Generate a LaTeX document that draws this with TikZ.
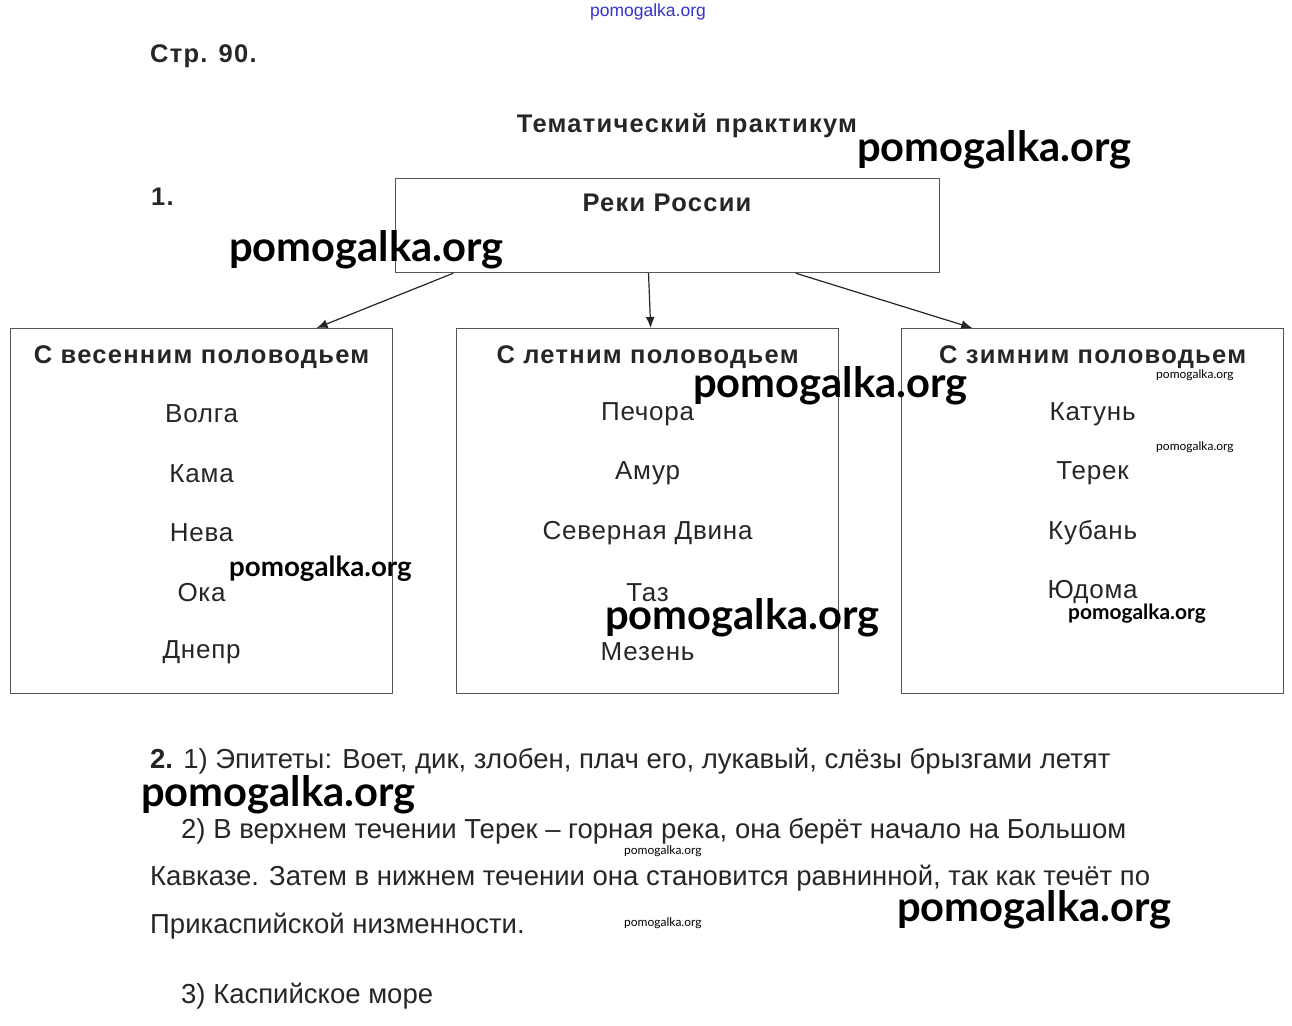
\documentclass[tikz,border=0pt]{standalone}
\usepackage{fontspec}
\setmainfont{Liberation Sans}
\newfontfamily\wmfont{Lato}
\newfontfamily\headfont[LetterSpace=5]{Liberation Sans}
\newfontfamily\itemfont[LetterSpace=3]{Liberation Sans}
\usetikzlibrary{arrows.meta,calc}

\definecolor{ink}{HTML}{262626}
\definecolor{frame}{HTML}{555555}
\definecolor{wmblue}{HTML}{3333CC}

\tikzset{
  riverbox/.style={draw=frame,line width=1.2pt,minimum width=382pt,minimum height=365pt,anchor=north west,inner sep=0pt},
  heading/.style={text=ink,font=\headfont\fontsize{25.5}{28}\selectfont\bfseries,inner sep=0pt},
  item/.style={text=ink,font=\itemfont\fontsize{26}{29}\selectfont,inner sep=0pt},
  answer/.style={text=ink,font=\fontsize{27.5}{30}\selectfont,inner sep=0pt,anchor=west},
  flow/.style={draw=ink,line width=1.2pt,-{Latex[length=11pt,width=9pt]}},
  wmbig/.style={font=\wmfont\bfseries\fontsize{41.7}{46}\selectfont,inner sep=0pt,anchor=west},
  wmmid/.style={font=\wmfont\bfseries\fontsize{27.7}{31}\selectfont,inner sep=0pt,anchor=west},
  wmsmall/.style={font=\wmfont\fontsize{12}{14}\selectfont,inner sep=0pt,anchor=west}
}

\begin{document}
\begin{tikzpicture}[x=1pt,y=-1pt]
    \useasboundingbox (0,0) rectangle (1292,1025);
    %\draw[help lines,step=50] (0,0) grid (1292,1025);
       \node[text=wmblue,font=\fontsize{17.5}{19}\selectfont,inner sep=0pt] (wmtop) at (648,12) {pomogalka.org};
       \node[heading,anchor=west] (page) at (150,56) {Стр. 90.};
       \node[heading] (title) at (687,126) {Тематический практикум};
       \node[heading,anchor=west] (num1) at (151,197) {1.};
       % top box
       \node[draw=frame,line width=1.2pt,minimum width=544pt,minimum height=94pt,anchor=north west,inner sep=0pt] (rivers) at (395,178) {};
       \node[heading] (riverstitle) at (667,203) {Реки России};
       % three boxes
       \node[riverbox] (spring) at (10,328) {};
       \node[riverbox] (summer) at (456,328) {};
       \node[riverbox] (winter) at (901,328) {};
       \node[heading] (springtitle) at ($(spring.north)+(0,29)$) {С весенним половодьем};
       \node[heading] (summertitle) at ($(summer.north)+(0,29)$) {С летним половодьем};
       \node[heading] (wintertitle) at ($(winter.north)+(0,29)$) {С зимним половодьем};
       \foreach \r [count=\i] in {Волга,Кама,Нева,Ока,Днепр}
          \node[item] (spring\i) at ($(spring.north)+(0,86+59.5*\i-59.5)$) {\r};
       \foreach \r [count=\i] in {Печора,Амур,Северная Двина,Таз,Мезень}
          \node[item] (summer\i) at ($(summer.north)+(0,86+59.5*\i-59.5)$) {\r};
       \foreach \r [count=\i] in {Катунь,Терек,Кубань,Юдома}
          \node[item] (winter\i) at ($(winter.north)+(0,86+59.5*\i-59.5)$) {\r};
       % arrows
       \draw[flow] ($(rivers.south west)!.107!(rivers.south east)$) -- ($(spring.north west)!.80!(spring.north east)$);
       \draw[flow] ($(rivers.south west)!.465!(rivers.south east)$) -- ($(summer.north west)!.508!(summer.north east)$);
       \draw[flow] ($(rivers.south west)!.735!(rivers.south east)$) -- ($(winter.north west)!.186!(winter.north east)$);
       % answers
       \node[answer] (ans1) at (150,761) {\textbf{2.} 1) Эпитеты: Воет, дик, злобен, плач его, лукавый, слёзы брызгами летят};
       \node[answer] (ans2) at (181,831) {2) В верхнем течении Терек – горная река, она берёт начало на Большом};
       \node[answer] (ans3) at (150,878) {Кавказе. Затем в нижнем течении она становится равнинной, так как течёт по};
       \node[answer] (ans4) at (150,926) {Прикаспийской низменности.};
       \node[answer] (ans5) at (181,996) {3) Каспийское море};
       % watermarks
       \node[wmbig] (wm1) at (857,150) {pomogalka.org};
       \node[wmbig] (wm2) at (229,250) {pomogalka.org};
       \node[wmbig] (wm3) at (693,386) {pomogalka.org};
       \node[wmbig] (wm4) at (605,618) {pomogalka.org};
       \node[wmbig] (wm5) at (141,795) {pomogalka.org};
       \node[wmbig] (wm6) at (897,910) {pomogalka.org};
       \node[wmmid] (wm7) at (229,569) {pomogalka.org};
       \node[wmmid,font=\wmfont\bfseries\fontsize{20.9}{24}\selectfont] (wm8) at (1068,614) {pomogalka.org};
       \node[wmsmall] (wm9) at (1156,375) {pomogalka.org};
       \node[wmsmall] (wm10) at (1156,447) {pomogalka.org};
       \node[wmsmall] (wm11) at (624,851) {pomogalka.org};
       \node[wmsmall] (wm12) at (624,923) {pomogalka.org};
\end{tikzpicture}
\end{document}
